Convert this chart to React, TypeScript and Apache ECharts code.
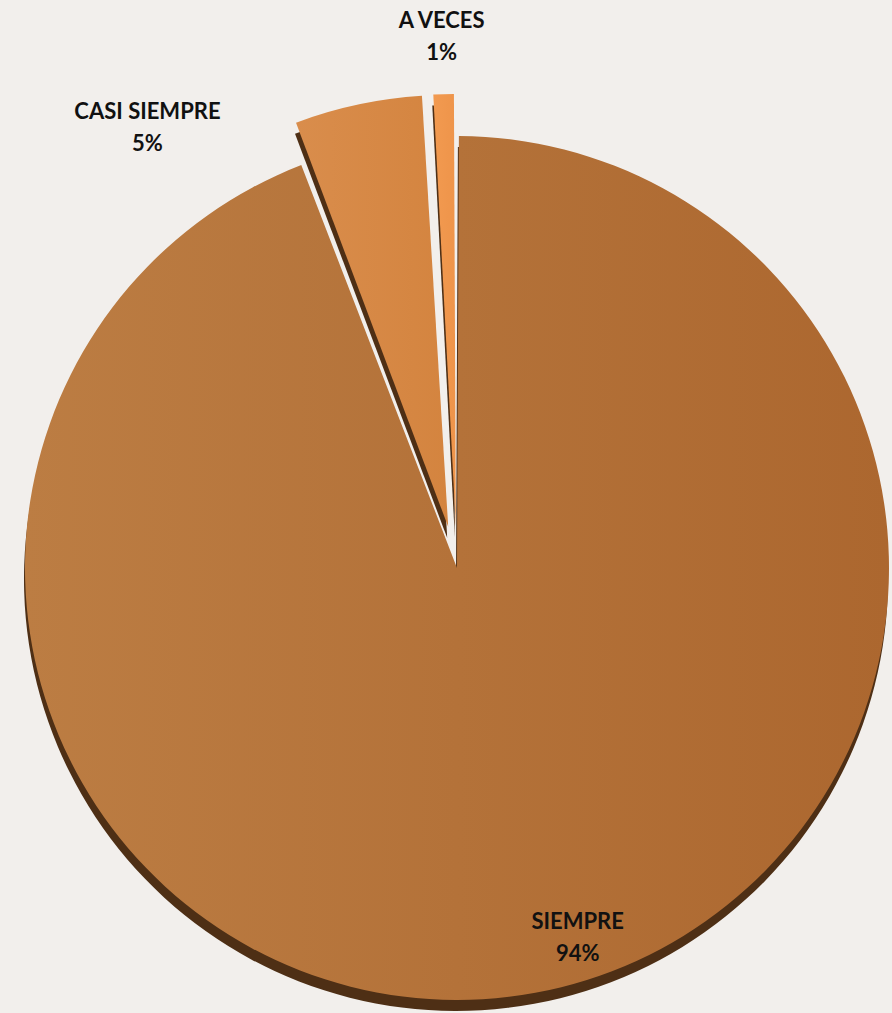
import React, { useEffect, useRef } from "react";
import * as echarts from "echarts";

const categories = ["SIEMPRE", "CASI SIEMPRE", "A VECES"];
const values = [94.2, 4.9, 0.9];
const exploded = [false, true, true];
const faceColors = [
  ["#BC7D43", "#AC672F"],
  ["#D98D4C", "#D4843F"],
  ["#F29A50", "#EE944A"],
];
const labelShift = [
  [81, 153],
  [-255, -186],
  [-8, -272],
];

export default function App() {
  const ref = useRef<HTMLDivElement>(null);
  useEffect(() => {
    document.body.style.margin = "0";
    document.body.style.background = "#F2EFEC";
    const chart = echarts.init(ref.current!, null, { renderer: "svg" });
    const center = [457, 568];
    const radius = 432;
    const shadowData = categories.map((name, i) => ({
      name,
      value: values[i],
      selected: exploded[i],
      itemStyle: { color: "#4E2F15" },
    }));
    const faceData = categories.map((name, i) => ({
      name,
      value: values[i],
      selected: exploded[i],
      itemStyle: {
        color: new echarts.graphic.LinearGradient(0, 0, 1, 0, [
          { offset: 0, color: faceColors[i][0] },
          { offset: 1, color: faceColors[i][1] },
        ]),
      },
    }));
    chart.setOption({
      animation: false,
      backgroundColor: "#F2EFEC",
      series: [
        {
          type: "pie",
          silent: true,
          center: [center[0] - 1, center[1] + 11],
          radius: radius,
          startAngle: 90,
          clockwise: true,
          padAngle: 0.5,
          selectedMode: "multiple",
          selectedOffset: 42,
          label: { show: false },
          labelLine: { show: false },
          itemStyle: { borderWidth: 0 },
          emphasis: { disabled: true },
          data: shadowData,
          z: 1,
        },
        {
          type: "pie",
          center: center,
          radius: radius,
          startAngle: 90,
          clockwise: true,
          padAngle: 0.5,
          selectedMode: "multiple",
          selectedOffset: 42,
          itemStyle: { borderWidth: 0 },
          emphasis: { disabled: true },
          labelLine: { show: false },
          label: {
            show: true,
            position: "inside",
            fontFamily: "Lato",
            fontWeight: "bold",
            fontSize: 22,
            lineHeight: 32,
            color: "#111111",
            align: "center",
            formatter: (p: any) => `${p.name}\n${Math.round(p.percent)}%`,
          },
          labelLayout: (p: any) => ({
            dx: labelShift[p.dataIndex][0],
            dy: labelShift[p.dataIndex][1],
          }),
          data: faceData,
          z: 2,
        },
      ],
    });
    return () => chart.dispose();
  }, []);
  return <div ref={ref} style={{ width: 892, height: 1013 }} />;
}
